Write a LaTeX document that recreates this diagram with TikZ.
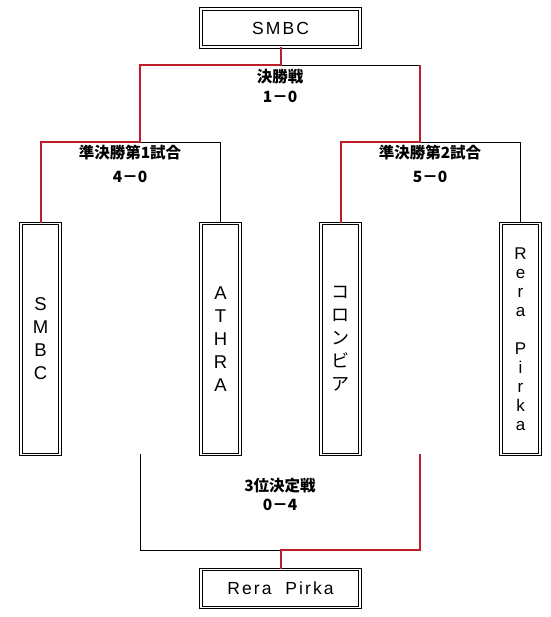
\documentclass[tikz,border=0pt]{standalone}
\usepackage{fontspec}
\setmainfont{Liberation Sans}
\newfontfamily\boxfont{Liberation Sans}[LetterSpace=12]
\newfontfamily\jp{Noto Sans CJK JP}
\usepackage{tikz}
\usetikzlibrary{calc}
\definecolor{winred}{RGB}{190,30,40}

\begin{document}
\begin{tikzpicture}[
  x=1pt,y=-1pt,
  line cap=butt,
  line join=miter,
  team/.style={draw=black,line width=0.9pt,double=white,double distance=1.8pt,inner sep=0pt},
  widebox/.style={team,minimum width=159pt,minimum height=38pt,font=\boxfont\fontsize{17.5}{19}\selectfont},
  tallbox/.style={team,minimum width=39pt,minimum height=231pt,align=center},
  lose/.style={draw=black,line width=0.8pt},
  win/.style={draw=winred,line width=2pt},
  score/.style={font=\jp\bfseries\fontsize{15.5}{19}\selectfont,inner sep=0pt}
]
  \useasboundingbox (0,0) rectangle (550,617);

  % Final and 3rd place boxes
  \node[widebox] (champ) at (280.5,28) {SMBC};
  \node[widebox] (third) at (280.5,588.5) {Rera\ \ Pirka};

  % Teams (vertical text)
  \node[tallbox,font=\fontsize{18.5}{23}\selectfont] (smbc)  at ( 40.5,339) {S\\M\\B\\C};
  \node[tallbox,font=\fontsize{18.5}{23}\selectfont] (athra) at (220.5,339) {A\\T\\H\\R\\A};
  \node[tallbox,font=\jp\fontsize{18}{23}\selectfont] (colon) at (340.5,339) {コ\\ロ\\ン\\ビ\\ア};
  \node[tallbox,font=\fontsize{17}{19}\selectfont] (rera)  at (520.5,339) {R\\e\\r\\a\\[19pt]P\\i\\r\\k\\a};

  % Junctions
  \coordinate (fL) at (140,65);
  \coordinate (fR) at (420,65);
  \coordinate (s1) at (140,142);
  \coordinate (s2) at (420,142);
  \coordinate (lA) at (140,454);
  \coordinate (lB) at (420,454);
  \coordinate (tL) at (140,550);
  \coordinate (tR) at (420,550);

  % Losing lines
  \draw[lose] (athra.north) |- (s1);
  \draw[lose] (rera.north) |- (s2);
  \draw[lose] (champ.south |- fR) -- (fR);
  \draw[lose] (lA) -- (tL) -- (third.north |- tL);

  % Winning lines
  \draw[win] (smbc.north) |- (s1) -- (fL) -| (champ.south);
  \draw[win] (colon.north) |- (s2) -- (fR);
  \draw[win] (lB) -- (tR) -| (third.north);

  % Labels
  \node[score] (finT) at (280,77) {決勝戦};
  \node[score] (finS) at (280,97) {1－0};
  \node[score] (sf1T) at (130,153) {準決勝第1試合};
  \node[score] (sf1S) at (130,177) {4－0};
  \node[score] (sf2T) at (430,153) {準決勝第2試合};
  \node[score] (sf2S) at (430,177) {5－0};
  \node[score] (trdT) at (280,486) {3位決定戦};
  \node[score] (trdS) at (280,505) {0－4};
\end{tikzpicture}
\end{document}
